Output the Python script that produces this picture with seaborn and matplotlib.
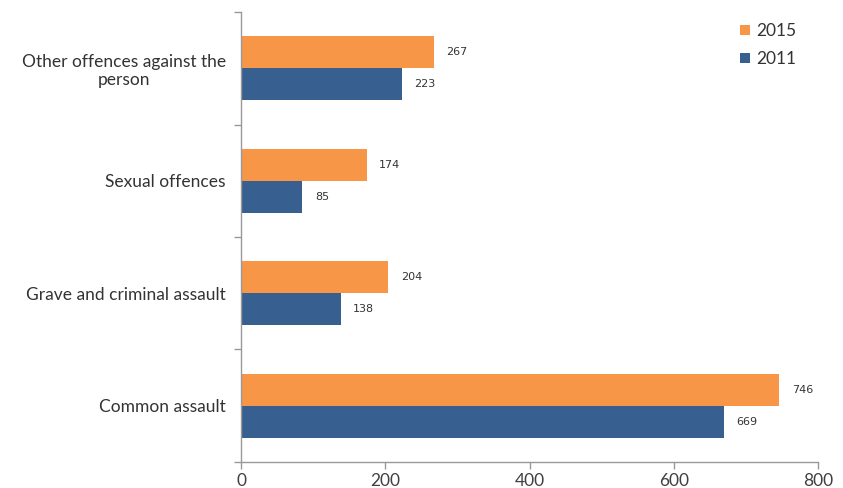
import matplotlib
matplotlib.use("Agg")
import matplotlib.pyplot as plt
import seaborn as sns
import pandas as pd
import numpy as np

categories = ["Other offences against the\nperson", "Sexual offences",
              "Grave and criminal assault", "Common assault"]
years = ["2015", "2011"]
values_2015 = [267, 174, 204, 746]
values_2011 = [223, 85, 138, 669]
x_ticks = [0, 200, 400, 600, 800]

df = pd.DataFrame({
    "category": categories * 2,
    "year": ["2015"] * 4 + ["2011"] * 4,
    "value": values_2015 + values_2011,
})

sns.set_style("white")
plt.rcParams["font.family"] = ["Lato", "DejaVu Sans"]

fig = plt.figure(figsize=(8.43, 4.88), dpi=100)
ax = fig.add_axes([0.2859, 0.0533, 0.6845, 0.9221])

palette = {"2015": "#F79646", "2011": "#375F8F"}
sns.barplot(data=df, x="value", y="category", hue="year", hue_order=years,
            order=categories, palette=palette, width=0.57, saturation=1,
            linewidth=0, ax=ax, orient="h")

for container in ax.containers:
    ax.bar_label(container, padding=9, fontsize=8, color="#333333",
                 family="DejaVu Sans")

ax.set_xlim(0, 800)
ax.set_ylim(3.5, -0.5)
ax.set_xticks(x_ticks)
ax.set_xticklabels([str(t) for t in x_ticks], fontsize=12.5, color="#404040")
ax.set_xlabel("")
ax.set_ylabel("")

# category labels sit on the major ticks; tick marks go on the band boundaries
ax.set_yticks(range(len(categories)))
ax.set_yticklabels(categories, fontsize=12.5, color="#333333")
for lbl in ax.get_yticklabels():
    lbl.set_multialignment("center")
ax.tick_params(axis="y", which="major", left=False, length=0, pad=11)
ax.set_yticks(np.arange(-0.5, len(categories), 1.0), minor=True)
ax.tick_params(axis="y", which="minor", left=True, length=5, color="#999999",
               width=1, direction="out")
ax.tick_params(axis="x", which="major", bottom=True, length=5, color="#999999",
               width=1, direction="out", pad=3)

for side in ["top", "right"]:
    ax.spines[side].set_visible(False)
for side in ["left", "bottom"]:
    ax.spines[side].set_color("#999999")
    ax.spines[side].set_linewidth(1)

leg = ax.legend(loc="upper right", bbox_to_anchor=(0.99, 1.01), frameon=False,
                fontsize=12.5, handlelength=0.55, handleheight=0.55,
                handletextpad=0.4, labelspacing=0.7)
for t in leg.get_texts():
    t.set_color("#333333")

fig.savefig("out.png", dpi=100)
